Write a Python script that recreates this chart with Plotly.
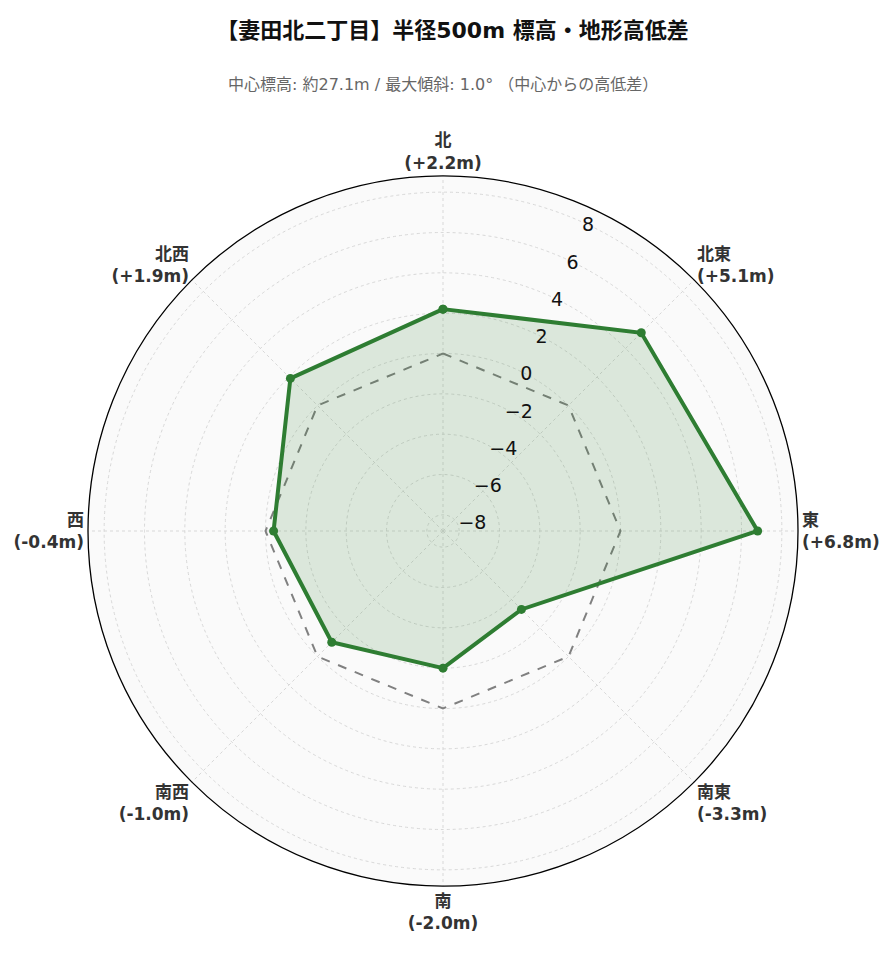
import plotly.graph_objects as go

directions = ["北", "北東", "東", "南東", "南", "南西", "西", "北西"]
diffs = [2.2, 5.1, 6.8, -3.3, -2.0, -1.0, -0.4, 1.9]
angles = [0, 45, 90, 135, 180, 225, 270, 315]
center_elev = 27.1
max_slope = 1.0

labels = [f"<b>{d}<br>({v:+.1f}m)</b>" for d, v in zip(directions, diffs)]

fig = go.Figure()
# zero reference (center elevation)
fig.add_trace(go.Scatterpolar(
    r=[0] * (len(angles) + 1), theta=angles + [angles[0]],
    mode="lines", line=dict(color="gray", width=2, dash="dash"),
    hoverinfo="skip", showlegend=False))
fig.add_trace(go.Scatterpolar(
    r=diffs + [diffs[0]], theta=angles + [angles[0]],
    mode="lines+markers", fill="toself",
    fillcolor="rgba(46,125,50,0.15)",
    line=dict(color="#2e7d32", width=4),
    marker=dict(size=9, color="#2e7d32"),
    showlegend=False))

fig.update_layout(
    width=889, height=962,
    paper_bgcolor="white",
    font=dict(family="DejaVu Sans, Noto Sans CJK JP", color="#333"),
    title=dict(
        text="<b>【妻田北二丁目】半径500m 標高・地形高低差</b>",
        x=0.5, y=0.985, xanchor="center", yanchor="top",
        font=dict(size=22, color="#111")),
    annotations=[dict(
        text=f"中心標高: 約{center_elev}m / 最大傾斜: {max_slope}° （中心からの高低差）",
        x=0.5, y=77, xref="paper", yref="paper", showarrow=False,
        font=dict(size=16, color="#666"))],
    margin=dict(l=80, r=99, t=168, b=84),
    polar=dict(
        bgcolor="#fafafa",
        radialaxis=dict(range=[-8.8, 8.8], angle=67.5, tickangle=67.5,
                        dtick=2, showline=False, ticks="",
                        gridcolor="#d8d8d8", griddash="dot",
                        tickfont=dict(size=19, color="#111")),
        angularaxis=dict(rotation=90, direction="clockwise",
                         tickmode="array", tickvals=angles, ticktext=labels,
                         tickfont=dict(size=17, color="#333"),
                         showline=True, linecolor="black", linewidth=1.3,
                         gridcolor="#d8d8d8", griddash="dot", ticks=""),
    ),
)
# place subtitle in pixel position below the title
fig.layout.annotations[0].update(y=1 + (168 - 77) / (962 - 168 - 84), yanchor="middle")

fig.write_html("out.html")
